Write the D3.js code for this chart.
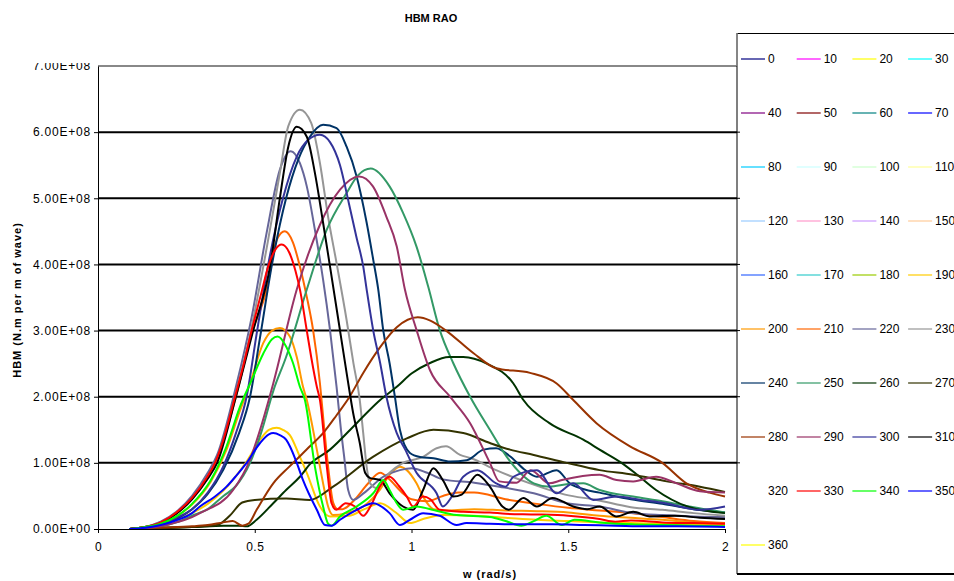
<!DOCTYPE html>
<html>
<head>
<meta charset="utf-8">
<script src="https://cdn.jsdelivr.net/npm/d3@7"></script>
<style>
  body { margin: 0; background: #fff; }
  svg { font-family: "Liberation Sans", Arial, sans-serif; }
</style>
</head>
<body>
<svg id="chart" width="954" height="581"></svg>
<script>
// headings (deg) shown in the legend, and their Excel colours
const headings = d3.range(0, 361, 10);
const colors = ["#000080","#FF00FF","#FFFF00","#00FFFF","#800080","#800000","#008080","#0000FF",
  "#00CCFF","#CCFFFF","#CCFFCC","#FFFF99","#99CCFF","#FF99CC","#CC99FF","#FFCC99",
  "#3366FF","#33CCCC","#99CC00","#FFCC00","#FF9900","#FF6600","#666699","#969696",
  "#003366","#339966","#003300","#333300","#993300","#993366","#333399","#000000",
  "#FFFFFF","#FF0000","#00FF00","#0000FF","#FFFF00"];

const yTicks = [0, 1e8, 2e8, 3e8, 4e8, 5e8, 6e8, 7e8];
const xTicks = [0, 0.5, 1, 1.5, 2];

// [w (rad/s), HBM in 1e8 N.m/m]; headings without a visible curve have none
const h190 = [[0.1,0],[0.15,0.02],[0.2,0.06],[0.25,0.13],[0.3,0.24],[0.35,0.38],[0.4,0.58],[0.44,0.8],[0.474,1.02],[0.517,1.35],[0.545,1.5],[0.57,1.53],[0.59,1.5],[0.612,1.42],[0.644,1.09],[0.666,0.85],[0.708,0.34],[0.74,0.19],[0.8,0.2],[0.85,0.3],[0.9,0.39],[0.95,0.25],[0.995,0.09],[1.037,0.15],[1.1,0.21],[1.2,0.2],[1.3,0.17],[1.4,0.14],[1.5,0.12],[1.6,0.1],[1.7,0.09],[1.8,0.08],[1.9,0.07],[2.0,0.06]];
const h200 = [[0.1,0],[0.15,0.03],[0.2,0.08],[0.25,0.19],[0.3,0.37],[0.36,0.72],[0.41,1.2],[0.45,1.75],[0.485,2.2],[0.527,2.81],[0.555,3.0],[0.58,3.04],[0.612,2.91],[0.634,2.6],[0.654,2.15],[0.666,1.95],[0.698,1.2],[0.718,0.69],[0.734,0.34],[0.75,0.21],[0.793,0.24],[0.846,0.34],[0.9,0.6],[0.93,0.82],[0.963,0.94],[0.985,0.89],[1.016,0.69],[1.037,0.49],[1.07,0.3],[1.12,0.28],[1.2,0.3],[1.3,0.28],[1.4,0.27],[1.5,0.25],[1.6,0.2],[1.7,0.17],[1.8,0.14],[1.9,0.1],[2.0,0.08]];
const h210 = [[0.1,0],[0.15,0.03],[0.2,0.1],[0.25,0.24],[0.3,0.46],[0.35,0.78],[0.38,1.05],[0.44,2.0],[0.49,2.95],[0.538,3.62],[0.57,4.37],[0.596,4.5],[0.622,4.33],[0.644,3.97],[0.666,3.51],[0.686,3.01],[0.708,2.2],[0.72,1.6],[0.735,0.9],[0.75,0.4],[0.765,0.3],[0.78,0.3],[0.82,0.45],[0.86,0.68],[0.9,0.85],[0.93,0.75],[0.97,0.55],[1.0,0.45],[1.05,0.42],[1.1,0.5],[1.15,0.55],[1.2,0.55],[1.3,0.45],[1.4,0.38],[1.5,0.32],[1.6,0.28],[1.7,0.24],[1.8,0.18],[1.9,0.12],[2.0,0.09]];
const h220 = [[0.1,0],[0.15,0.03],[0.2,0.11],[0.25,0.26],[0.3,0.5],[0.35,0.85],[0.38,1.12],[0.44,2.15],[0.49,3.2],[0.538,4.48],[0.58,5.43],[0.615,5.71],[0.644,5.53],[0.666,5.18],[0.692,4.52],[0.718,3.77],[0.74,3.01],[0.761,2.15],[0.775,1.5],[0.785,1.1],[0.798,0.59],[0.814,0.44],[0.85,0.55],[0.91,0.79],[0.963,0.89],[1.0,0.92],[1.05,0.85],[1.1,0.75],[1.2,0.7],[1.28,0.64],[1.39,0.54],[1.495,0.39],[1.6,0.34],[1.707,0.24],[1.8,0.21],[1.9,0.19],[2.0,0.18]];
const h230 = [[0.1,0],[0.15,0.03],[0.2,0.1],[0.25,0.24],[0.3,0.46],[0.35,0.8],[0.38,1.05],[0.44,2.05],[0.49,3.05],[0.54,4.3],[0.58,5.38],[0.607,6.09],[0.644,6.34],[0.68,6.14],[0.708,5.53],[0.734,4.72],[0.761,4.02],[0.793,3.16],[0.815,2.5],[0.835,1.95],[0.846,1.45],[0.857,0.94],[0.868,0.69],[0.889,0.62],[0.93,0.85],[0.973,1.0],[1.037,1.09],[1.08,1.22],[1.11,1.25],[1.155,1.12],[1.19,1.07],[1.27,0.89],[1.378,0.69],[1.49,0.52],[1.59,0.44],[1.7,0.33],[1.8,0.29],[1.9,0.24],[2.0,0.2]];
const h240 = [[0.1,0],[0.15,0.02],[0.2,0.06],[0.25,0.15],[0.3,0.3],[0.35,0.53],[0.4,0.9],[0.45,1.45],[0.485,2.0],[0.517,2.9],[0.555,4.0],[0.6,5.0],[0.64,5.6],[0.676,5.93],[0.718,6.11],[0.761,6.06],[0.793,5.78],[0.825,5.33],[0.857,4.63],[0.878,4.07],[0.894,3.62],[0.91,3.0],[0.93,2.51],[0.947,2.0],[0.963,1.5],[0.995,1.15],[1.027,1.09],[1.07,1.07],[1.123,1.02],[1.176,1.04],[1.23,1.2],[1.27,1.22],[1.314,1.1],[1.36,0.9],[1.40,0.79],[1.463,0.89],[1.505,0.69],[1.55,0.6],[1.6,0.55],[1.7,0.45],[1.8,0.38],[1.9,0.3],[2.0,0.25]];
const h250 = [[0.1,0],[0.15,0.01],[0.2,0.04],[0.25,0.1],[0.3,0.2],[0.35,0.3],[0.4,0.5],[0.44,0.65],[0.485,1.0],[0.52,1.45],[0.56,2.1],[0.6,2.6],[0.666,3.62],[0.73,4.53],[0.793,5.08],[0.83,5.35],[0.87,5.45],[0.93,5.18],[0.973,4.78],[1.016,4.27],[1.053,3.67],[1.09,3.01],[1.133,2.51],[1.187,2.0],[1.25,1.5],[1.304,1.09],[1.346,0.85],[1.39,0.69],[1.44,0.64],[1.5,0.68],[1.548,0.69],[1.6,0.59],[1.707,0.49],[1.8,0.42],[1.9,0.33],[2.0,0.25]];
const h260 = [[0.1,0],[0.2,0.02],[0.3,0.03],[0.4,0.05],[0.45,0.05],[0.474,0.04],[0.506,0.14],[0.559,0.39],[0.6,0.59],[0.644,0.79],[0.676,0.98],[0.74,1.2],[0.825,1.6],[0.9,1.95],[0.953,2.15],[1.0,2.35],[1.059,2.51],[1.12,2.6],[1.165,2.6],[1.24,2.5],[1.325,2.2],[1.357,1.95],[1.44,1.6],[1.548,1.35],[1.6,1.2],[1.67,1.0],[1.72,0.82],[1.78,0.59],[1.88,0.34],[2.0,0.24]];
const h270 = [[0.1,0],[0.2,0.01],[0.3,0.03],[0.38,0.06],[0.42,0.2],[0.46,0.4],[0.5,0.44],[0.6,0.46],[0.676,0.44],[0.75,0.64],[0.877,1.09],[0.985,1.37],[1.07,1.5],[1.165,1.45],[1.25,1.3],[1.314,1.2],[1.39,1.12],[1.495,1.0],[1.6,0.89],[1.707,0.82],[1.814,0.72],[1.92,0.64],[2.0,0.56]];
const h280 = [[0.1,0],[0.2,0.02],[0.3,0.04],[0.35,0.06],[0.4,0.1],[0.43,0.12],[0.46,0.05],[0.48,0.08],[0.506,0.29],[0.559,0.69],[0.612,0.95],[0.676,1.25],[0.718,1.45],[0.761,1.72],[0.8,1.98],[0.846,2.36],[0.9,2.75],[0.953,3.05],[1.02,3.2],[1.06,3.15],[1.11,3.0],[1.197,2.66],[1.27,2.43],[1.378,2.36],[1.463,2.2],[1.516,1.95],[1.59,1.6],[1.697,1.25],[1.8,1.0],[1.877,0.69],[1.95,0.55],[2.0,0.49]];
const h290 = [[0.1,0],[0.15,0.01],[0.2,0.04],[0.25,0.1],[0.3,0.18],[0.325,0.24],[0.431,0.59],[0.485,1.05],[0.517,1.5],[0.559,2.2],[0.634,3.62],[0.708,4.6],[0.772,5.13],[0.833,5.33],[0.877,5.18],[0.92,4.72],[0.953,4.27],[0.979,3.62],[1.016,3.01],[1.059,2.4],[1.123,2.0],[1.187,1.6],[1.25,1.0],[1.28,0.72],[1.335,0.7],[1.38,0.89],[1.44,0.69],[1.48,0.74],[1.6,0.82],[1.654,0.74],[1.707,0.72],[1.78,0.79],[1.846,0.69],[1.92,0.57],[2.0,0.55]];
const h300 = [[0.1,0],[0.15,0.02],[0.2,0.07],[0.25,0.17],[0.3,0.3],[0.35,0.55],[0.4,0.95],[0.44,1.45],[0.474,2.0],[0.506,2.95],[0.543,4.0],[0.59,5.0],[0.634,5.63],[0.67,5.88],[0.708,5.96],[0.74,5.85],[0.772,5.5],[0.8,4.93],[0.825,4.4],[0.846,3.97],[0.857,3.62],[0.878,3.0],[0.9,2.51],[0.92,2.0],[0.953,1.45],[0.98,1.2],[1.016,0.85],[1.08,0.54],[1.10,0.34],[1.13,0.5],[1.165,0.79],[1.21,0.89],[1.27,0.69],[1.30,0.64],[1.325,0.79],[1.40,0.89],[1.463,0.54],[1.516,0.69],[1.58,0.44],[1.654,0.49],[1.73,0.44],[1.81,0.39],[1.92,0.29],[2.0,0.34]];
const h310 = [[0.1,0],[0.15,0.03],[0.2,0.09],[0.25,0.23],[0.3,0.45],[0.35,0.76],[0.38,1.0],[0.44,2.0],[0.495,3.0],[0.55,4.0],[0.58,5.0],[0.607,5.78],[0.634,6.08],[0.666,5.93],[0.692,5.38],[0.718,4.63],[0.745,3.82],[0.772,3.0],[0.795,2.3],[0.814,1.75],[0.835,1.3],[0.852,0.85],[0.868,0.77],[0.9,0.74],[0.93,0.54],[0.973,0.34],[1.005,0.29],[1.037,0.59],[1.07,0.92],[1.1,0.74],[1.133,0.49],[1.16,0.52],[1.21,0.82],[1.25,0.64],[1.29,0.34],[1.31,0.29],[1.357,0.47],[1.40,0.34],[1.45,0.47],[1.516,0.34],[1.56,0.3],[1.60,0.34],[1.654,0.19],[1.707,0.26],[1.76,0.19],[1.84,0.2],[1.92,0.17],[2.0,0.15]];
const h330 = [[0.1,0],[0.15,0.03],[0.2,0.1],[0.25,0.25],[0.3,0.47],[0.35,0.8],[0.375,1.02],[0.4,1.35],[0.437,2.0],[0.465,2.5],[0.49,3.0],[0.52,3.55],[0.545,4.0],[0.565,4.22],[0.586,4.3],[0.61,4.18],[0.63,3.9],[0.645,3.6],[0.666,3.0],[0.68,2.6],[0.698,2.15],[0.708,1.95],[0.73,0.94],[0.745,0.39],[0.76,0.29],[0.79,0.39],[0.82,0.34],[0.846,0.2],[0.87,0.35],[0.9,0.65],[0.93,0.79],[0.96,0.65],[0.985,0.49],[1.005,0.34],[1.037,0.49],[1.06,0.45],[1.09,0.29],[1.165,0.26],[1.25,0.25],[1.3,0.23],[1.4,0.22],[1.5,0.2],[1.6,0.15],[1.65,0.11],[1.7,0.13],[1.8,0.1],[1.9,0.09],[2.0,0.08]];
const h340 = [[0.1,0],[0.15,0.03],[0.2,0.08],[0.25,0.19],[0.3,0.38],[0.36,0.74],[0.41,1.25],[0.453,1.85],[0.49,2.25],[0.527,2.65],[0.555,2.87],[0.573,2.91],[0.6,2.76],[0.622,2.51],[0.644,2.15],[0.66,1.95],[0.692,0.94],[0.718,0.34],[0.734,0.08],[0.745,0.05],[0.772,0.19],[0.825,0.34],[0.878,0.54],[0.91,0.74],[0.93,0.59],[0.953,0.39],[0.973,0.29],[1.016,0.34],[1.06,0.3],[1.144,0.21],[1.25,0.18],[1.3,0.12],[1.35,0.05],[1.39,0.12],[1.43,0.2],[1.48,0.06],[1.52,0.14],[1.6,0.1],[1.7,0.07],[1.8,0.06],[1.9,0.05],[2.0,0.04]];
const h350 = [[0.1,0],[0.15,0.02],[0.2,0.06],[0.25,0.13],[0.3,0.24],[0.325,0.34],[0.37,0.48],[0.41,0.64],[0.44,0.8],[0.474,1.0],[0.517,1.3],[0.545,1.43],[0.559,1.45],[0.58,1.42],[0.6,1.35],[0.612,1.25],[0.634,1.0],[0.654,0.74],[0.698,0.29],[0.724,0.06],[0.745,0.05],[0.772,0.14],[0.825,0.29],[0.878,0.39],[0.93,0.24],[0.963,0.06],[0.995,0.14],[1.037,0.24],[1.09,0.2],[1.144,0.06],[1.175,0.09],[1.25,0.08],[1.35,0.07],[1.45,0.07],[1.55,0.06],[1.65,0.05],[1.75,0.04],[1.85,0.04],[2.0,0.03]];

const curves = {190: h190, 200: h200, 210: h210, 220: h220, 230: h230, 240: h240, 250: h250,
  260: h260, 270: h270, 280: h280, 290: h290, 300: h300, 310: h310, 330: h330, 340: h340, 350: h350};

const svg = d3.select("#chart");

const x = d3.scaleLinear().domain([0, 2]).range([98, 725]);
const y = d3.scaleLinear().domain([0, 7e8]).range([529, 66]);
const plotRight = 737;

// gridlines
svg.append("g")
  .selectAll("line")
  .data(yTicks.filter(d => d > 0 && d < 7e8))
  .join("line")
    .attr("x1", x(0)).attr("x2", plotRight)
    .attr("y1", d => y(d)).attr("y2", d => y(d))
    .attr("stroke", "#000").attr("stroke-width", 2);

// top border of the plot area
svg.append("line")
  .attr("x1", x(0)).attr("x2", plotRight)
  .attr("y1", y(7e8)).attr("y2", y(7e8))
  .attr("stroke", "#888").attr("stroke-width", 2);

// curves
const line = d3.line()
  .x(d => x(d[0]))
  .y(d => y(d[1] * 1e8))
  .curve(d3.curveMonotoneX);

const series = headings.map((h, i) => ({h: h, color: colors[i], pts: curves[h] || []}));

svg.append("g")
  .selectAll("path")
  .data(series.filter(s => s.pts.length))
  .join("path")
    .attr("d", s => line(s.pts))
    .attr("fill", "none")
    .attr("stroke", s => s.color)
    .attr("stroke-width", 2)
    .attr("stroke-linejoin", "round");

// axes
const fmt = d => {
  if (d === 0) return "0.00E+00";
  const s = d3.format(".2e")(d).split("e");
  const e = +s[1];
  return s[0] + "E" + (e < 0 ? "-" : "+") + String(Math.abs(e)).padStart(2, "0");
};

// the top label is cut off in the original, as Excel drew it
svg.append("defs").append("clipPath").attr("id", "lblclip")
  .append("rect").attr("x", 0).attr("y", 63).attr("width", 110).attr("height", 500);

const yAxis = svg.append("g")
  .attr("clip-path", "url(#lblclip)")
  .append("g")
  .attr("transform", `translate(${x(0)},0)`)
  .call(d3.axisLeft(y).tickValues(yTicks).tickFormat(fmt).tickSize(4).tickSizeOuter(0));
yAxis.attr("font-size", 12).attr("font-family", "Liberation Sans, Arial, sans-serif");
yAxis.select(".domain").attr("stroke", "#000");
yAxis.selectAll("text").attr("x", -7).attr("fill", "#000").attr("letter-spacing", 0.8);
yAxis.selectAll(".tick").filter(d => d === 7e8).select("line").remove();

const xAxis = svg.append("g")
  .attr("transform", `translate(0,${y(0)})`)
  .call(d3.axisBottom(x).tickValues(xTicks).tickFormat(d3.format("")).tickSize(4).tickSizeOuter(0));
xAxis.attr("font-size", 12).attr("font-family", "Liberation Sans, Arial, sans-serif");
xAxis.select(".domain").attr("stroke", "#000");
xAxis.selectAll("text").attr("y", 13).attr("fill", "#000").attr("letter-spacing", 0.5);

// titles
svg.append("text")
  .attr("x", 431).attr("y", 22)
  .attr("text-anchor", "middle")
  .attr("font-size", 11).attr("font-weight", "bold")
  .text("HBM RAO");

svg.append("text")
  .attr("transform", "translate(21,300) rotate(-90)")
  .attr("text-anchor", "middle")
  .attr("font-size", 11).attr("font-weight", "bold")
  .attr("letter-spacing", 1)
  .text("HBM (N.m per m of wave)");

svg.append("text")
  .attr("x", 490).attr("y", 578)
  .attr("text-anchor", "middle")
  .attr("font-size", 11).attr("font-weight", "bold")
  .attr("letter-spacing", 1)
  .text("w (rad/s)");

// legend box
const lg = svg.append("g");
lg.append("rect")
  .attr("x", plotRight).attr("y", 33.5)
  .attr("width", 240).attr("height", 540)
  .attr("fill", "#fff").attr("stroke", "#000").attr("stroke-width", 1);
lg.append("line").attr("x1", plotRight).attr("x2", plotRight).attr("y1", 33).attr("y2", y(7e8))
  .attr("stroke", "#888").attr("stroke-width", 1.5);
lg.append("line").attr("x1", plotRight).attr("x2", plotRight).attr("y1", y(0)).attr("y2", 574)
  .attr("stroke", "#888").attr("stroke-width", 1.5);
lg.append("line").attr("x1", plotRight).attr("x2", 954).attr("y1", 574).attr("y2", 574)
  .attr("stroke", "#000").attr("stroke-width", 2);
lg.selectAll(".rt")
  .data(yTicks.filter(d => d > 0 && d < 7e8))
  .join("line")
    .attr("x1", plotRight).attr("x2", plotRight + 3)
    .attr("y1", d => y(d)).attr("y2", d => y(d))
    .attr("stroke", "#000");

const item = lg.selectAll(".item")
  .data(series)
  .join("g")
    .attr("transform", (d, i) => `translate(${741 + (i % 4) * 55.7},${59 + Math.floor(i / 4) * 54})`);
item.append("line")
  .attr("x1", 0).attr("x2", 24)
  .attr("stroke", d => d.color).attr("stroke-width", 1.2);
item.append("text")
  .attr("x", 27).attr("y", 4)
  .attr("font-size", 12)
  .text(d => d.h);
</script>
</body>
</html>
